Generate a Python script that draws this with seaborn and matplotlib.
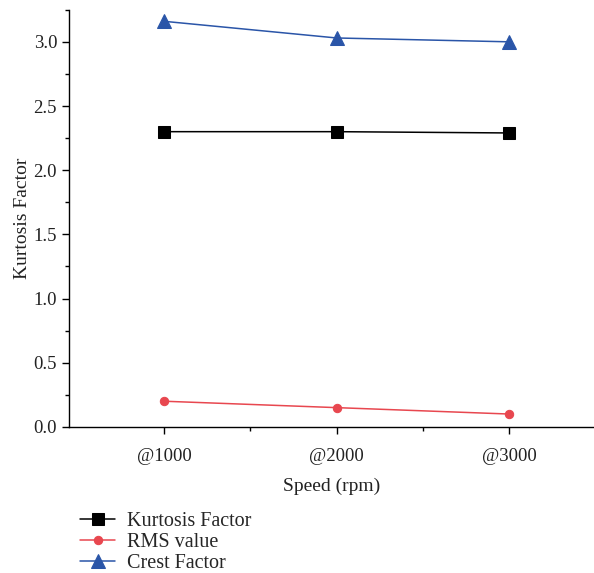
import matplotlib.pyplot as plt
import pandas as pd
import seaborn as sns
from matplotlib.ticker import MultipleLocator, FixedLocator

speeds = ["@1000", "@2000", "@3000"]
kurtosis = [2.30, 2.30, 2.29]
rms = [0.20, 0.15, 0.10]
crest = [3.16, 3.03, 3.00]

sns.set_theme(style="ticks")
plt.rcParams["font.family"] = ["Liberation Serif", "DejaVu Serif"]

fig = plt.figure(figsize=(5.94, 5.73), dpi=100)
ax = fig.add_axes([0.116, 0.255, 0.884, 0.728])

series = [
    ("Kurtosis Factor", kurtosis, "black", "s", 8.5),
    ("RMS value", rms, "#e8474f", "o", 6),
    ("Crest Factor", crest, "#2a55a8", "^", 10),
]
for label, vals, color, marker, ms in series:
    df = pd.DataFrame({"speed": speeds, "value": vals})
    sns.lineplot(data=df, x="speed", y="value", ax=ax, color=color,
                 marker=marker, markersize=ms, markeredgecolor=color,
                 linewidth=1.1, label=label)

ax.set_xlim(-0.55, 2.49)
ax.set_ylim(0, 3.25)
ax.yaxis.set_major_locator(MultipleLocator(0.5))
ax.yaxis.set_minor_locator(MultipleLocator(0.25))
ax.xaxis.set_minor_locator(FixedLocator([0.5, 1.5]))
ax.tick_params(axis="both", which="major", labelsize=13.5, length=5,
               width=1, color="black", labelcolor="#222222")
ax.tick_params(axis="x", which="major", pad=10)
ax.tick_params(axis="both", which="minor", length=3, width=1, color="black")
ax.set_xlabel("Speed (rpm)", fontsize=14, color="#222222", labelpad=9)
ax.set_ylabel("Kurtosis Factor", fontsize=14, color="#222222", labelpad=2)
ax.spines["top"].set_visible(False)
ax.spines["right"].set_visible(False)
for s in ["left", "bottom"]:
    ax.spines[s].set_color("black")
    ax.spines[s].set_linewidth(1)

handles, labels = ax.get_legend_handles_labels()
ax.get_legend().remove()
fig.legend(handles, labels, loc="upper left", bbox_to_anchor=(0.135, 0.107),
           frameon=False, fontsize=14.5, handlelength=1.75,
           handletextpad=0.55, labelspacing=0.1,
           borderaxespad=0, borderpad=0)

fig.savefig("out.png", dpi=100)
